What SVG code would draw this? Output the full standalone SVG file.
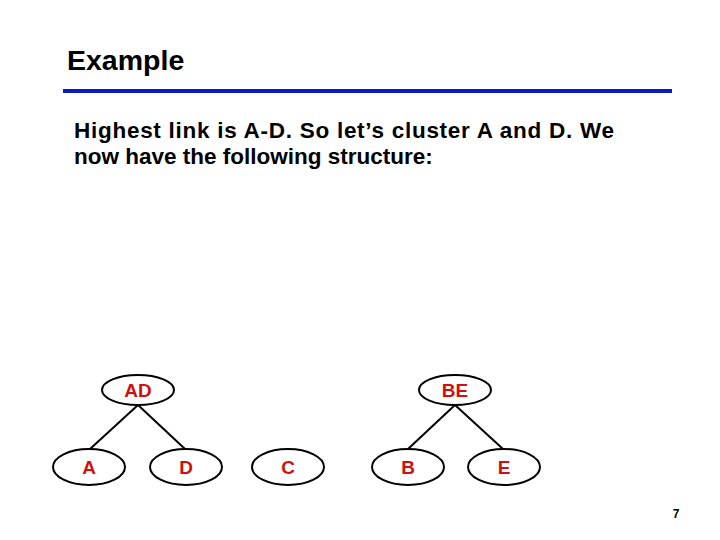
<svg xmlns="http://www.w3.org/2000/svg" width="720" height="540" viewBox="0 0 720 540">
<style>
text{font-family:"Liberation Sans",Arial,sans-serif;font-weight:bold}
.n ellipse{fill:#fff;stroke:#000;stroke-width:2}
.n text{fill:#d01010;font-size:19px;text-anchor:middle}
.c line{stroke:#000;stroke-width:2}
</style>
<rect width="720" height="540" fill="#fff"/>
<text x="67" y="70" font-size="28.5">Example</text>
<rect x="63" y="89" width="609" height="4" fill="#0a1cc0"/>
<text x="74" y="138" font-size="22.5" textLength="540">Highest link is A-D. So let’s cluster A and D. We</text>
<text x="74" y="164" font-size="22.5">now have the following structure:</text>
<g class="c">
<line x1="138" y1="405" x2="90" y2="449"/>
<line x1="138" y1="405" x2="185" y2="449"/>
<line x1="455" y1="405" x2="408" y2="449"/>
<line x1="455" y1="405" x2="503" y2="449"/>
</g>
<g id="AD" class="n"><ellipse cx="138" cy="390" rx="36" ry="15"/><text x="138" y="397">AD</text></g>
<g id="BE" class="n"><ellipse cx="455" cy="390" rx="36" ry="15"/><text x="455" y="397">BE</text></g>
<g id="A" class="n"><ellipse cx="89" cy="467" rx="36" ry="18"/><text x="89" y="474">A</text></g>
<g id="D" class="n"><ellipse cx="186" cy="467" rx="36" ry="18"/><text x="186" y="474">D</text></g>
<g id="C" class="n"><ellipse cx="288" cy="467" rx="36" ry="18"/><text x="288" y="474">C</text></g>
<g id="B" class="n"><ellipse cx="408" cy="467" rx="36" ry="18"/><text x="408" y="474">B</text></g>
<g id="E" class="n"><ellipse cx="504" cy="467" rx="36" ry="18"/><text x="504" y="474">E</text></g>
<text x="676" y="518" font-size="12" font-weight="normal" text-anchor="middle">7</text>
</svg>
